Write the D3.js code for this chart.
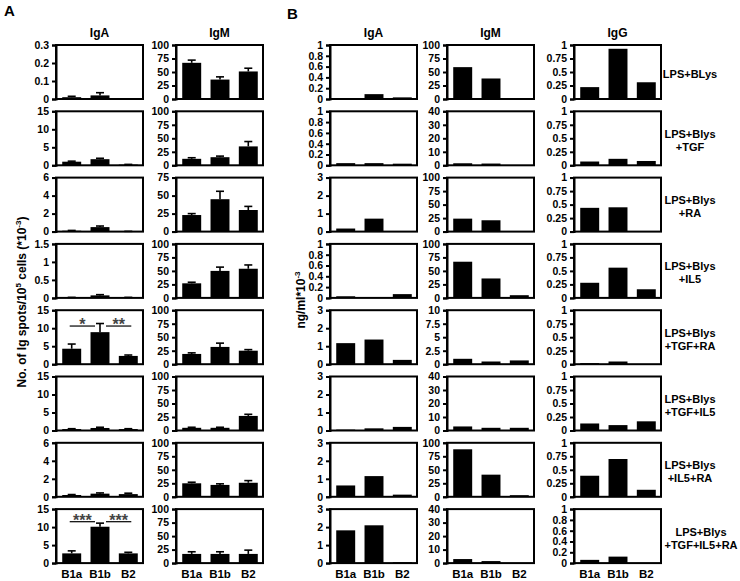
<!DOCTYPE html>
<html><head><meta charset="utf-8">
<script src="https://cdn.jsdelivr.net/npm/d3@7"></script>
<style>
body{margin:0;background:#fff;}
svg{display:block;font-family:Arial,"Liberation Sans",sans-serif;}
</style></head>
<body><svg id="c" width="740" height="581"></svg>
<script>
// ---------- DATA ----------
const groups = ["B1a", "B1b", "B2"];
const treatments = [
  ["LPS+BLys"], ["LPS+Blys", "+TGF"], ["LPS+Blys", "+RA"], ["LPS+Blys", "+IL5"],
  ["LPS+Blys", "+TGF+RA"], ["LPS+Blys", "+TGF+IL5"], ["LPS+Blys", "+IL5+RA"], ["LPS+Blys", "+TGF+IL5+RA"]
];
// Panel A (ELISPOT), IgA
const aIgA    = [[0.01,0.02,0.002],[1.0,1.7,0.2],[0.1,0.5,0.02],[0.01,0.07,0.01],[4.3,8.9,2.3],[0.4,0.7,0.4],[0.2,0.35,0.3],[2.7,10.1,2.7]];
const aIgAErr = [[0.005,0.015,0],[0.15,0.25,0.05],[0.03,0.12,0.01],[0.005,0.02,0.005],[1.3,2.4,0.25],[0.1,0.2,0.1],[0.05,0.08,0.1],[0.7,1.0,0.3]];
const aIgAMax = [0.3,15,6,1.5,15,15,6,15];
const aIgATicks = [[0,0.1,0.2,0.3],[0,5,10,15],[0,2,4,6],[0,0.5,1,1.5],[0,5,10,15],[0,5,10,15],[0,2,4,6],[0,5,10,15]];
// Panel A, IgM
const aIgM    = [[67,36,51],[12,15,35],[23,45,30],[27,50,54],[19,32,25],[5,5,27],[25,22,26],[17,17,17]];
const aIgMErr = [[5,5,6],[2,2,9],[2,11,5],[2,7,7],[2,7,2],[1,1,3],[2,2,4],[4,4,7]];
const aIgMMax = [100,100,75,100,100,100,100,100];
const aIgMTicks = [[0,25,50,75,100],[0,25,50,75,100],[0,25,50,75],[0,25,50,75,100],[0,25,50,75,100],[0,25,50,75,100],[0,25,50,75,100],[0,25,50,75,100]];
// Significance marks in panel A IgA: [row, fromGroup, toGroup, yValue, label]
const aSig = [[4,0,1,10.6,"*"],[4,1,2,10.6,"**"],[7,0,1,11.5,"***"],[7,1,2,11.5,"***"]];
// Panel B (ELISA, ng/ml*10^-3)
const bIgA = [[0.005,0.09,0.03],[0.04,0.04,0.03],[0.17,0.72,0.0],[0.03,0.0,0.07],[1.17,1.37,0.24],[0.05,0.12,0.2],[0.63,1.15,0.12],[1.82,2.1,0.05]];
const bIgAMax = [1,1,3,1,3,3,3,3];
const bIgATicks = [[0,0.2,0.4,0.6,0.8,1],[0,0.2,0.4,0.6,0.8,1],[0,1,2,3],[0,0.2,0.4,0.6,0.8,1],[0,1,2,3],[0,1,2,3],[0,1,2,3],[0,1,2,3]];
const bIgM = [[59,38,0],[1.5,1.3,0],[24,21,0],[67,36,5],[1.0,0.5,0.7],[3,2,2],[88,41,3],[3,1.5,0]];
const bIgMMax = [100,40,100,100,10,40,100,40];
const bIgMTicks = [[0,25,50,75,100],[0,10,20,30,40],[0,25,50,75,100],[0,25,50,75,100],[0,2.5,5,7.5,10],[0,10,20,30,40],[0,25,50,75,100],[0,10,20,30,40]];
const bIgG = [[0.22,0.93,0.31],[0.07,0.12,0.08],[0.44,0.45,0.01],[0.28,0.56,0.16],[0.02,0.05,0.003],[0.13,0.1,0.17],[0.39,0.7,0.13],[0.06,0.12,0.003]];
const bIgGMax = [1,1,1,1,1,1,1,1];
const q = [0,0.25,0.5,0.75,1];
const bIgGTicks = [q,q,q,q,q,q,q,[0,0.2,0.4,0.6,0.8,1]];

// ---------- LAYOUT ----------
const svg = d3.select("#c");
const W = 87, H = 54, top0 = 45, pitch = 66.3;
const columns = [
  {left:56,  title:"IgA", vals:aIgA, errs:aIgAErr, max:aIgAMax, ticks:aIgATicks, sig:true},
  {left:176, title:"IgM", vals:aIgM, errs:aIgMErr, max:aIgMMax, ticks:aIgMTicks},
  {left:330, title:"IgA", vals:bIgA, max:bIgAMax, ticks:bIgATicks},
  {left:447, title:"IgM", vals:bIgM, max:bIgMMax, ticks:bIgMTicks},
  {left:574, title:"IgG", vals:bIgG, max:bIgGMax, ticks:bIgGTicks}
];
const fmt = d => String(d);

columns.forEach((col, ci) => {
  const x = d3.scaleBand().domain(groups).range([col.left, col.left + W + 1]).paddingInner(0.33).paddingOuter(0.22);
  col.vals.forEach((row, ri) => {
    const t = top0 + ri * pitch;
    const y = d3.scaleLinear().domain([0, col.max[ri]]).range([t + H, t]);
    const g = svg.append("g");
    // bars
    g.selectAll("rect.bar").data(row).join("rect")
      .attr("x", (d,i) => x(groups[i])).attr("width", x.bandwidth())
      .attr("y", d => y(d)).attr("height", d => y(0) - y(d)).attr("fill", "#000");
    // error bars
    if (col.errs) {
      const er = col.errs[ri];
      row.forEach((v, i) => {
        if (er[i] <= 0) return;
        const cx = x(groups[i]) + x.bandwidth()/2;
        g.append("line").attr("x1", cx).attr("x2", cx).attr("y1", y(v)).attr("y2", y(v + er[i])).attr("stroke","#000").attr("stroke-width",1.6);
        g.append("line").attr("x1", cx-4).attr("x2", cx+4).attr("y1", y(v + er[i])).attr("y2", y(v + er[i])).attr("stroke","#000").attr("stroke-width",1.6);
      });
    }
    // frame
    g.append("rect").attr("x", col.left).attr("y", t).attr("width", W).attr("height", H)
      .attr("fill","none").attr("stroke","#000").attr("stroke-width",2);
    // axis
    const ax = g.append("g").attr("transform", `translate(${col.left},0)`)
      .call(d3.axisLeft(y).tickValues(col.ticks[ri]).tickSize(4).tickPadding(3).tickFormat(fmt));
    ax.select(".domain").attr("stroke-width", 2);
    ax.selectAll(".tick line").attr("stroke-width", 2);
    ax.selectAll("text").attr("font-size", 10.5).attr("font-weight", "bold").attr("fill","#000")
      .attr("font-family","Arial, 'Liberation Sans', sans-serif");
    // significance
    if (col.sig) {
      aSig.filter(s => s[0] === ri).forEach(s => {
        const c1 = x(groups[s[1]]) + x.bandwidth()/2, c2 = x(groups[s[2]]) + x.bandwidth()/2;
        const x1 = s[1] === 0 ? c1 - 2 : c1 + 6, x2 = s[1] === 0 ? c2 - 5 : c2 + 3;
        const yy = y(s[3]);
        g.append("line").attr("x1", x1).attr("x2", x2).attr("y1", yy).attr("y2", yy).attr("stroke","#000").attr("stroke-width",1.2);
        g.append("text").attr("x", (x1+x2)/2).attr("y", yy + 4).attr("text-anchor","middle")
          .attr("font-size", 16).attr("font-weight","bold").attr("fill","#444").text(s[4]);
      });
    }
    // x labels under last row
    if (ri === col.vals.length - 1) {
      groups.forEach(gn => {
        g.append("text").attr("x", x(gn) + x.bandwidth()/2).attr("y", t + H + 15)
          .attr("text-anchor","middle").attr("font-size", 11.5).attr("font-weight","bold").text(gn);
      });
    }
  });
  // column title
  svg.append("text").attr("x", col.left + W/2).attr("y", top0 - 8).attr("text-anchor","middle")
    .attr("font-size", 12).attr("font-weight","bold").text(col.title);
});

// row labels
treatments.forEach((lines, ri) => {
  const cy = top0 + ri * pitch + H/2 + 2;
  const cx = ri === 7 ? 701 : 690;
  const n = lines.length;
  lines.forEach((ln, li) => {
    svg.append("text").attr("x", cx).attr("y", cy + (li - (n-1)/2) * 13 + 4)
      .attr("text-anchor","middle").attr("font-size", 11).attr("font-weight","bold").text(ln);
  });
});

// panel letters
svg.append("text").attr("x", 4).attr("y", 16).attr("font-size", 15).attr("font-weight","bold").text("A");
svg.append("text").attr("x", 287).attr("y", 19).attr("font-size", 15).attr("font-weight","bold").text("B");

// y-axis titles
const ya = svg.append("text").attr("transform","translate(26,302) rotate(-90)").attr("text-anchor","middle")
  .attr("font-size", 12).attr("font-weight","bold");
ya.append("tspan").text("No. of Ig spots/10");
ya.append("tspan").attr("font-size", 8).attr("dy", -5).text("5");
ya.append("tspan").attr("dy", 5).text(" cells (*10");
ya.append("tspan").attr("font-size", 8).attr("dy", -5).text("-3");
ya.append("tspan").attr("dy", 5).text(")");

const yb = svg.append("text").attr("transform","translate(305,300) rotate(-90)").attr("text-anchor","middle")
  .attr("font-size", 12).attr("font-weight","bold");
yb.append("tspan").text("ng/ml*10");
yb.append("tspan").attr("font-size", 8).attr("dy", -5).text("-3");
</script>
</body></html>
